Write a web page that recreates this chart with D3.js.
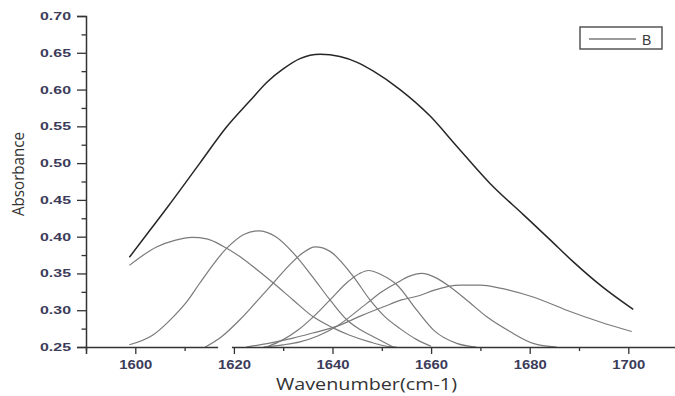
<!DOCTYPE html>
<html>
<head>
<meta charset="utf-8">
<script src="https://cdn.jsdelivr.net/npm/d3@7"></script>
<style>
  html, body { margin: 0; padding: 0; background: #fff; }
  svg { display: block; }
</style>
</head>
<body>
<svg id="chart" width="675" height="396"></svg>
<script>
// ---- Data ----
const xTickValues = [1600, 1620, 1640, 1660, 1680, 1700];
const xMinorTicks = [1590, 1610, 1630, 1650, 1670, 1690, 1710];
const yTickValues = [0.25, 0.30, 0.35, 0.40, 0.45, 0.50, 0.55, 0.60, 0.65, 0.70];
const yMinorTicks = [0.275, 0.325, 0.375, 0.425, 0.475, 0.525, 0.575, 0.625, 0.675];

const seriesName = "B";

// Measured spectrum (black)
const mainWn  = [1598.8, 1603.0, 1606.4, 1613.1, 1618.5, 1623.3, 1626.7, 1630.0, 1633.4, 1637.5, 1641.5, 1645.0, 1648.3, 1653.7, 1659.8, 1665.2, 1672.0, 1678.7, 1684.1, 1688.8, 1694.5, 1701.0];
const mainAbs = [0.372, 0.409, 0.439, 0.500, 0.549, 0.585, 0.610, 0.628, 0.642, 0.648, 0.645, 0.637, 0.625, 0.600, 0.564, 0.523, 0.472, 0.430, 0.396, 0.366, 0.333, 0.301];

// Fitted component bands (grey)
const band1Wn  = [1598.8, 1604.3, 1608.0, 1611.5, 1614.5, 1617.8, 1621.2, 1624.5, 1628.0, 1632.0, 1636.1, 1639.8, 1643.5, 1647.5, 1651.0, 1653.0];
const band1Abs = [0.361, 0.386, 0.395, 0.399, 0.397, 0.387, 0.373, 0.356, 0.337, 0.314, 0.291, 0.277, 0.266, 0.257, 0.251, 0.250];

const band2Wn  = [1598.8, 1603.5, 1607.7, 1610.5, 1613.1, 1618.5, 1622.0, 1625.0, 1628.5, 1632.7, 1636.0, 1639.5, 1642.9, 1645.5, 1648.3, 1652.3];
const band2Abs = [0.253, 0.266, 0.291, 0.312, 0.337, 0.384, 0.403, 0.408, 0.400, 0.373, 0.345, 0.314, 0.287, 0.274, 0.264, 0.250];

const band3Wn  = [1614.2, 1617.5, 1621.2, 1624.5, 1628.0, 1631.5, 1634.0, 1636.5, 1639.5, 1644.2, 1647.6, 1650.5, 1653.7, 1657.1, 1660.0];
const band3Abs = [0.250, 0.264, 0.287, 0.311, 0.337, 0.363, 0.378, 0.386, 0.380, 0.346, 0.314, 0.292, 0.275, 0.260, 0.251];

const band4Wn  = [1626.6, 1630.0, 1633.0, 1636.1, 1639.5, 1643.0, 1645.5, 1647.3, 1650.0, 1653.0, 1657.1, 1660.5, 1665.2, 1669.2];
const band4Abs = [0.250, 0.260, 0.273, 0.291, 0.314, 0.338, 0.350, 0.354, 0.348, 0.335, 0.300, 0.273, 0.255, 0.250];

const band5Wn  = [1626.0, 1630.0, 1633.4, 1637.0, 1640.8, 1646.9, 1650.0, 1653.0, 1655.5, 1658.1, 1661.0, 1663.8, 1667.2, 1671.3, 1676.0, 1680.7, 1685.5];
const band5Abs = [0.250, 0.253, 0.257, 0.265, 0.278, 0.309, 0.325, 0.337, 0.346, 0.350, 0.344, 0.332, 0.314, 0.291, 0.271, 0.255, 0.250];

const band6Wn  = [1622.5, 1627.0, 1632.0, 1636.0, 1640.8, 1646.0, 1650.5, 1654.0, 1657.7, 1660.5, 1665.9, 1670.0, 1674.0, 1680.7, 1687.5, 1694.3, 1700.7];
const band6Abs = [0.250, 0.255, 0.262, 0.269, 0.278, 0.293, 0.305, 0.314, 0.320, 0.327, 0.334, 0.334, 0.330, 0.318, 0.300, 0.284, 0.271];

// ---- Drawing ----
const svg = d3.select("#chart");
const x = d3.scaleLinear().domain([1590, 1710]).range([86, 677.6]);
const y = d3.scaleLinear().domain([0.25, 0.70]).range([347, 16]);

const line = d3.line()
  .x(d => x(d[0]))
  .y(d => y(d[1]))
  .curve(d3.curveMonotoneX);

const zip = (a, b) => a.map((v, i) => [v, b[i]]);

const bands = [
  zip(band1Wn, band1Abs), zip(band2Wn, band2Abs), zip(band3Wn, band3Abs),
  zip(band4Wn, band4Abs), zip(band5Wn, band5Abs), zip(band6Wn, band6Abs)
];

svg.append("g").selectAll("path").data(bands).join("path")
  .attr("d", line)
  .attr("fill", "none")
  .attr("stroke", "#7a7a7a")
  .attr("stroke-width", 1.2);

svg.append("path")
  .attr("d", line(zip(mainWn, mainAbs)))
  .attr("fill", "none")
  .attr("stroke", "#262626")
  .attr("stroke-width", 1.5);

// Axes
const axisColor = "#333";
const labelColor = "#3c3c5a";

const yAxis = svg.append("g").attr("transform", "translate(86,0)")
  .call(d3.axisLeft(y).tickValues(yTickValues).tickFormat(d3.format(".2f")).tickSize(9).tickPadding(6));
const yMinor = svg.append("g").attr("transform", "translate(86,0)")
  .call(d3.axisLeft(y).tickValues(yMinorTicks).tickFormat("").tickSize(4.5));

const xAxis = svg.append("g").attr("transform", "translate(0,347)")
  .call(d3.axisBottom(x).tickValues(xTickValues).tickFormat(d3.format("d")).tickSize(7).tickPadding(6));
const xMinor = svg.append("g").attr("transform", "translate(0,347)")
  .call(d3.axisBottom(x).tickValues(xMinorTicks).tickFormat("").tickSize(4));

[yAxis, yMinor, xAxis, xMinor].forEach(g => {
  g.selectAll("path.domain").attr("stroke", axisColor).attr("stroke-width", 1.5);
  g.selectAll(".tick line").attr("stroke", axisColor).attr("stroke-width", 1.3);
});
xMinor.select("path.domain").remove();
yMinor.select("path.domain").remove();

// small break in the x axis line seen in the reference (just left of 1620)
svg.append("rect")
  .attr("x", x(1616.8)).attr("y", 345)
  .attr("width", x(1619.6) - x(1616.8)).attr("height", 4)
  .attr("fill", "#fff");

yAxis.selectAll(".tick text")
  .attr("font-family", "'Liberation Sans', Arial, sans-serif")
  .attr("font-weight", "bold")
  .attr("font-size", 11)
  .attr("fill", labelColor)
  .attr("textLength", 31)
  .attr("lengthAdjust", "spacingAndGlyphs");

xAxis.selectAll(".tick text")
  .attr("font-family", "'Liberation Sans', Arial, sans-serif")
  .attr("font-weight", "bold")
  .attr("font-size", 12)
  .attr("fill", labelColor)
  .attr("textLength", 33)
  .attr("lengthAdjust", "spacingAndGlyphs");

// Axis titles
svg.append("text")
  .attr("x", 366.5).attr("y", 390)
  .attr("text-anchor", "middle")
  .attr("font-family", "'Open Sans', sans-serif")
  .attr("font-size", 16)
  .attr("fill", "#333")
  .attr("textLength", 181)
  .attr("lengthAdjust", "spacingAndGlyphs")
  .text("Wavenumber(cm-1)");

svg.append("text")
  .attr("transform", "translate(24,174) rotate(-90)")
  .attr("text-anchor", "middle")
  .attr("font-family", "'Open Sans', sans-serif")
  .attr("font-size", 16)
  .attr("fill", "#333")
  .attr("textLength", 84)
  .attr("lengthAdjust", "spacingAndGlyphs")
  .text("Absorbance");

// Legend
const legend = svg.append("g");
legend.append("rect")
  .attr("x", 580).attr("y", 27).attr("width", 82).attr("height", 22)
  .attr("fill", "#fff").attr("stroke", "#555").attr("stroke-width", 1.5);
legend.append("line")
  .attr("x1", 589).attr("x2", 636).attr("y1", 39).attr("y2", 39)
  .attr("stroke", "#7a7a7a").attr("stroke-width", 1.5);
legend.append("text")
  .attr("x", 642).attr("y", 44.5)
  .attr("font-family", "'Liberation Sans', Arial, sans-serif")
  .attr("font-size", 14)
  .attr("fill", "#3a3a3a")
  .text(seriesName);
</script>
</body>
</html>
